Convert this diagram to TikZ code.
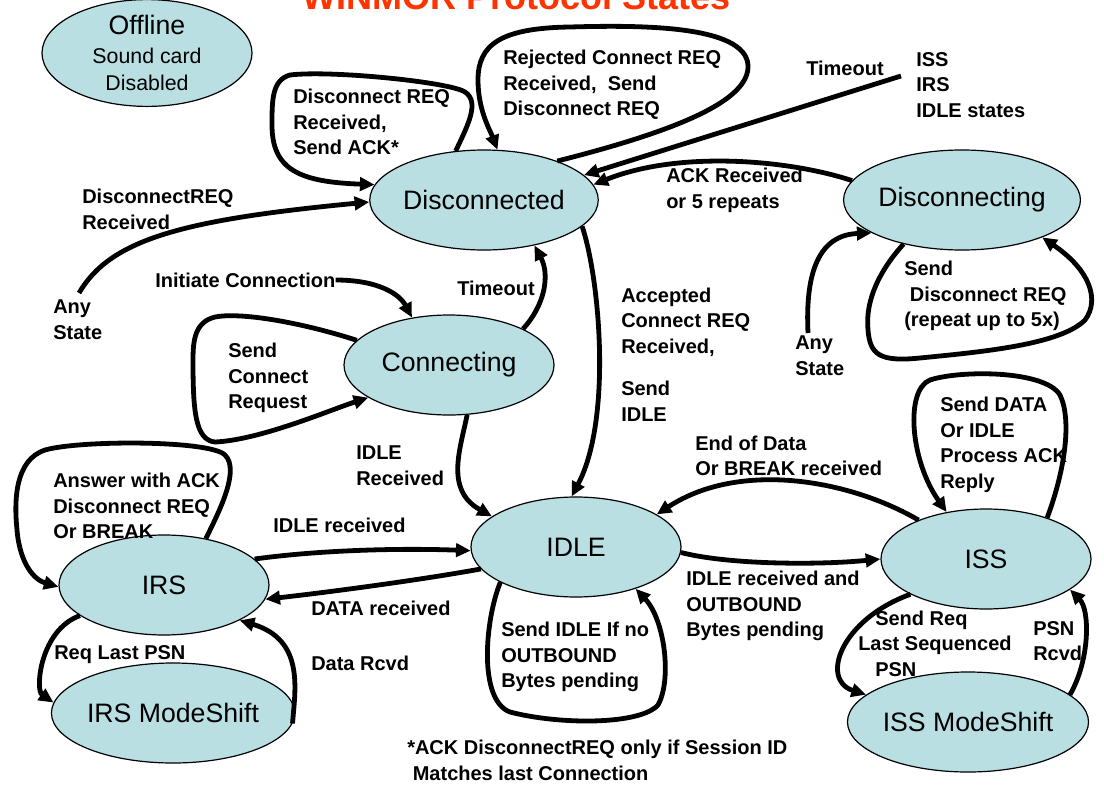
\documentclass[tikz,border=0pt]{standalone}
\usepackage{fontspec}
\setmainfont{Liberation Sans}
\usetikzlibrary{arrows.meta,shapes.geometric}
\definecolor{stfill}{RGB}{185,223,227}
\definecolor{titlered}{RGB}{255,51,0}
\begin{document}
\begin{tikzpicture}[x=0.75pt,y=-0.75pt,
  state/.style={ellipse, draw=black, line width=0.9pt, fill=stfill, minimum width=157.5pt, minimum height=75pt, inner sep=0pt, font=\fontsize{20}{24}\selectfont},
  lbl/.style={font=\fontsize{15}{19.2}\selectfont\bfseries, align=left, inner sep=0pt, anchor=west},
  arr/.style={line width=3.6pt, -{Triangle[length=11pt,width=10pt]}},
]
\clip (0,0) rectangle (1104,786);
\fill[white] (0,0) rectangle (1104,786);

% title (cut at the top)
\node[font=\fontsize{27}{30}\selectfont\bfseries, text=titlered, anchor=base, inner sep=0pt] (title) at (517,9) {WINMOR Protocol States};

% states
\node[state, align=center] (off) at (147,53) {Offline\\[-2pt]{\fontsize{16}{24}\selectfont Sound card}\\[-4pt]{\fontsize{16}{24}\selectfont Disabled}};
\node[state] (disc) at (484,200) {Disconnected};
\node[state] (dcing) at (962,200) {Disconnecting};
\node[state] (conn) at (449,365) {Connecting};
\node[state] (idle) at (576,547) {IDLE};
\node[state] (iss) at (986,559) {ISS};
\node[state] (irs) at (164,585) {IRS};
\node[state] (irsm) at (173,713) {IRS ModeShift};
\node[state] (issm) at (968,722) {ISS ModeShift};

% labels
\node[lbl] (l1) at (293,122) {Disconnect REQ\\Received,\\Send ACK*};
\node[lbl] (l2) at (503,85) {Rejected Connect REQ\\Received,\ \ Send\\Disconnect REQ};
\node[lbl] (lto1) at (806,68) {Timeout};
\node[lbl] (lstates) at (916,85) {ISS\\IRS\\IDLE states};
\node[lbl] (lack) at (666,190.5) {ACK Received\\or 5 repeats};
\node[lbl] (ldreq) at (82,209.5) {DisconnectREQ\\Received};
\node[lbl] (anyL) at (53,319.5) {Any\\State};
\node[lbl] (init) at (155,280) {Initiate Connection};
\node[lbl] (lto2) at (457,288) {Timeout};
\node[lbl] (lscr) at (228,378) {Send\\Connect\\Request};
\node[lbl] (lacc) at (621,322) {Accepted\\Connect REQ\\Received,};
\node[lbl] (lsi) at (621,401) {Send\\IDLE};
\node[lbl] (lsdr) at (904,296) {Send\\\ Disconnect REQ\\(repeat up to 5x)};
\node[lbl] (anyR) at (795,356) {Any\\State};
\node[lbl] (lidr) at (356,466) {IDLE\\Received};
\node[lbl] (lsd) at (940,445) {Send DATA\\Or IDLE\\Process ACK\\Reply};
\node[lbl] (leod) at (695,456) {End of Data\\Or BREAK received};
\node[lbl] (lans) at (53,506) {Answer with ACK\\Disconnect REQ\\Or BREAK};
\node[lbl] (lidr2) at (273,525) {IDLE received};
\node[lbl] (ldata) at (311,608) {DATA received};
\node[lbl] (lidob) at (686,606) {IDLE received and\\OUTBOUND\\Bytes pending};
\node[lbl] (lsino) at (501,657) {Send IDLE If no\\OUTBOUND\\Bytes pending};
\node[lbl] (lreq) at (54,655) {Req Last PSN};
\node[lbl] (ldr) at (311,663) {Data Rcvd};
\node[lbl] (lsr1) at (875,620) {Send Req};
\node[lbl] (lsr2) at (858,645) {Last Sequenced};
\node[lbl] (lsr3) at (875,670) {PSN};
\node[lbl] (lpsn) at (1033,641) {PSN\\Rcvd};
\node[lbl] (lfoot) at (407,760.5) {*ACK DisconnectREQ only if Session ID\\\ Matches last Connection};

\coordinate (tfrom) at (901,76);
\coordinate (anyLtop) at (79,293);
\coordinate (anyRtop) at (808,333);

% connectors
\draw[arr] (disc.120) .. controls (468,125) and (480,102) .. (465,92) .. controls (450,82) and (330,70) .. (290,75) .. controls (272,80) and (272,100) .. (272,125) .. controls (272,170) and (300,182) .. (disc.172);
\draw[arr] (disc.28) .. controls (680,130) and (750,100) .. (748,65) .. controls (745,25) and (640,25) .. (570,27) .. controls (500,28) and (478,45) .. (478,80) .. controls (478,110) and (490,130) .. (disc.75);
\draw[arr] (tfrom) -- (disc.14);
\draw[arr] (dcing.170) .. controls (790,160) and (680,150) .. (disc.8);
\draw[arr] (anyLtop) .. controls (110,240) and (180,220) .. (disc.181);
\draw[arr] (init.east) .. controls (380,280) and (400,295) .. (conn.128);
\draw[arr] (conn.165) .. controls (300,322) and (240,312) .. (215,317) .. controls (195,322) and (193,340) .. (193,360) .. controls (193,410) and (195,440) .. (215,442) .. controls (260,440) and (330,410) .. (conn.202);
\draw[arr] (conn.26) .. controls (545,305) and (550,275) .. (disc.318);
\draw[arr] (conn.290) .. controls (460,450) and (445,490) .. (idle.160);
\draw[arr] (disc.345) .. controls (600,280) and (612,420) .. (idle.95);
\draw[arr] (dcing.217) .. controls (880,270) and (865,300) .. (868,330) .. controls (870,355) and (880,362) .. (920,358) .. controls (980,352) and (1060,345) .. (1085,320) .. controls (1100,300) and (1090,270) .. (dcing.335);
\draw[arr] (anyRtop) .. controls (805,270) and (820,235) .. (dcing.200);
\draw[arr] (iss.34) .. controls (1065,470) and (1072,420) .. (1060,395) .. controls (1045,370) and (960,370) .. (930,380) .. controls (905,390) and (910,460) .. (iss.130);
\draw[arr] (iss.150) .. controls (850,480) and (740,460) .. (idle.22);
\draw[arr] (idle.357) .. controls (730,565) and (820,565) .. (iss.180);
\draw[arr] (idle.205) .. controls (485,620) and (478,700) .. (510,712) .. controls (560,725) and (640,725) .. (658,705) .. controls (672,680) and (665,620) .. (idle.325);
\draw[arr] (irs.16) .. controls (320,550) and (400,548) .. (idle.182);
\draw[arr] (idle.193) .. controls (420,580) and (330,592) .. (irs.352);
\draw[arr] (irs.48) .. controls (220,510) and (240,470) .. (225,455) .. controls (210,440) and (80,440) .. (45,450) .. controls (15,460) and (14,500) .. (17,530) .. controls (20,565) and (35,580) .. (irs.181);
\draw[arr] (irs.200) .. controls (40,630) and (35,690) .. (irsm.175);
\draw[arr] (irsm.355) .. controls (295,690) and (305,640) .. (irs.335);
\draw[arr] (iss.205) .. controls (840,620) and (820,680) .. (issm.165);
\draw[arr] (issm.15) .. controls (1090,660) and (1090,610) .. (iss.340);
\end{tikzpicture}
\end{document}
